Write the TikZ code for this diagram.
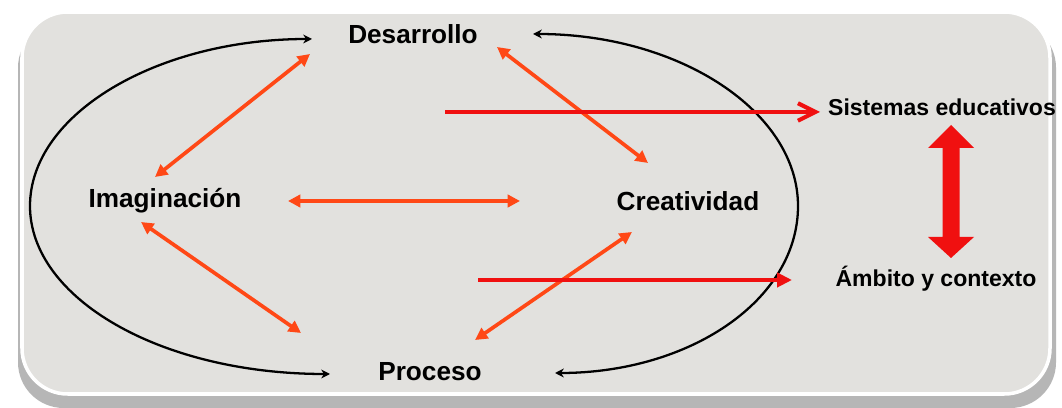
\documentclass[tikz,border=0pt]{standalone}
\usepackage{fontspec}
\setmainfont{Liberation Sans}
\usetikzlibrary{arrows.meta}
\definecolor{panel}{RGB}{226,225,222}
\definecolor{shade}{RGB}{150,150,150}
\definecolor{orangered}{RGB}{255,72,22}
\definecolor{pured}{RGB}{240,16,16}
\tikzset{
  lbl/.style={font=\bfseries\fontsize{14.9}{16}\selectfont, inner sep=0pt},
  lblsmall/.style={font=\bfseries\fontsize{13.1}{15}\selectfont, inner sep=0pt},
  cycle arrow/.style={draw=black, line width=1.3pt, {Stealth[length=5pt,width=5pt]}-{Stealth[length=5pt,width=5pt]}},
  link/.style={draw=orangered, line width=2.1pt, {Triangle[length=7pt,width=7pt]}-{Triangle[length=7pt,width=7pt]}},
  feed/.style={draw=pured, line width=2.3pt},
}
\begin{document}
\begin{tikzpicture}[x=0.02cm,y=-0.02cm]
\useasboundingbox (0,0) rectangle (1062,408);
% background panel
\fill[white] (0,0) rectangle (1062,408);
\fill[shade!70, rounded corners=26pt] (18,22) rectangle (1056,408);
\fill[panel, rounded corners=26pt] (22,12) rectangle (1050,394);
\draw[white, line width=2pt, rounded corners=26pt] (22,12) rectangle (1050,394);

% labels
\node[lbl] (des) at (413,34) {Desarrollo};
\node[lbl] (ima) at (165,201) {Imaginación};
\node[lbl] (cre) at (688,201) {Creatividad};
\node[lbl] (pro) at (430,372) {Proceso};
\node[lblsmall] (sis) at (942,107) {Sistemas educativos};
\node[lblsmall] (amb) at (936,279) {Ámbito y contexto};

% coordinates for connector ends
\coordinate (cTL) at (312,39);
\coordinate (cBL) at (330,374);
\coordinate (cTR) at (533,34);
\coordinate (cBR) at (555,373);

% black cycle curves
\draw[cycle arrow] (cTL) .. controls (157,39) and (30,114) .. (30,206)
  .. controls (30,298) and (160,374) .. (cBL);
\draw[cycle arrow] (cTR) .. controls (680,34) and (798,112) .. (798,206)
  .. controls (798,300) and (690,373) .. (cBR);

% orange double arrows
\coordinate (a1) at (155,177); \coordinate (a2) at (310,54);
\coordinate (b1) at (497,47);  \coordinate (b2) at (648,163);
\coordinate (h1) at (288,201); \coordinate (h2) at (520,201);
\coordinate (d1) at (141,222); \coordinate (d2) at (301,333);
\coordinate (e1) at (632,232); \coordinate (e2) at (475,340);
\draw[link] (a1) -- (a2);
\draw[link] (b1) -- (b2);
\draw[link] (h1) -- (h2);
\draw[link] (d1) -- (d2);
\draw[link] (e1) -- (e2);

% red arrows to external context
\coordinate (f1) at (445,112); \coordinate (f2) at (820,112);
\coordinate (g1) at (478,280); \coordinate (g2) at (792,280);
\draw[feed, -{Straight Barb[length=10pt,width=10pt,line width=2.3pt]}] (f1) -- (f2);
\draw[feed, -{Triangle[length=8.5pt,width=8pt]}] (g1) -- (g2);

% big vertical double arrow
\fill[pured] (951,125) -- (974,148) -- (959.5,148) -- (959.5,237) -- (974,237)
  -- (951,258) -- (928,237) -- (942.5,237) -- (942.5,148) -- (928,148) -- cycle;
\end{tikzpicture}
\end{document}
